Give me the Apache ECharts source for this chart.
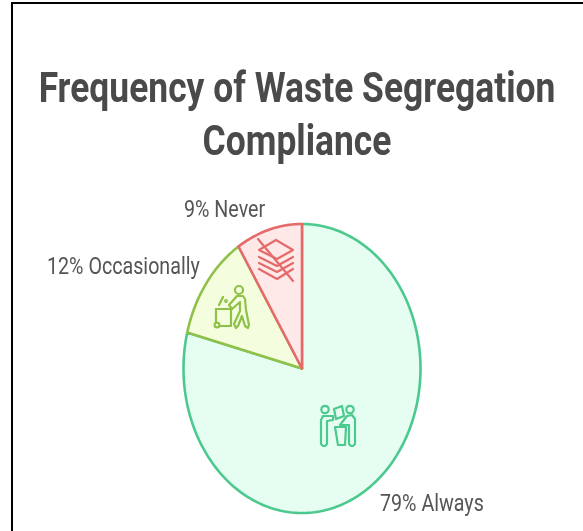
<!DOCTYPE html>
<html><head><meta charset="utf-8">
<style>html,body{margin:0;padding:0;background:#fff}#c{width:583px;height:531px}</style>
<script src="https://cdn.jsdelivr.net/npm/echarts@6/dist/echarts.min.js"></script>
</head><body><div id="c"></div>
<script>
const categories = ['Always', 'Occasionally', 'Never'];
const values = [79, 12, 9];
const titleLines = ['Frequency of Waste Segregation', 'Compliance'];
const strokes = ['#4cc98e', '#8fc148', '#e56a6a'];
const fills = ['#e6fef2', '#f4fedf', '#ffe8e8'];

const cx = 302, cy = 368.5, rx = 118.5, ry = 144.5;
const total = values.reduce((a, b) => a + b, 0);

function slicePoints(from, to) {
  const pts = [[cx, cy]];
  const n = Math.max(8, Math.round((to - from) * 3));
  for (let i = 0; i <= n; i++) {
    const a = (from + (to - from) * i / n) / total * Math.PI * 2;
    pts.push([cx + rx * Math.sin(a), cy - ry * Math.cos(a)]);
  }
  return pts;
}

function renderSlice(params, api) {
  const i = params.dataIndex;
  let start = 0;
  for (let k = 0; k < i; k++) start += values[k];
  return {
    type: 'polygon',
    shape: { points: slicePoints(start, start + api.value(0)) },
    style: { fill: fills[i], stroke: strokes[i], lineWidth: 2.6, lineJoin: 'round' }
  };
}

function stroke(color, w) { return { fill: 'none', stroke: color, lineWidth: w || 2.2, lineJoin: 'round', lineCap: 'round' }; }
const line = (pts, color, w) => ({ type: 'polyline', z: 10, silent: true, shape: { points: pts }, style: stroke(color, w) });
const ring = (x, y, r, color, w) => ({ type: 'circle', z: 10, silent: true, shape: { cx: x, cy: y, r }, style: stroke(color, w) });

const G = strokes[0], Y = strokes[1], R = strokes[2];
const iconAlways = [
  ring(325, 409.5, 3.7, G), ring(350, 409.5, 3.7, G),
  line([[321,444],[321,420],[323,416],[333,416],[333,420],[327,421],[327,444],[325,446],[323,446],[321,444]], G),
  line([[355,444],[355,419],[352,415],[347,416],[340,425],[349,425],[349,444],[351,446],[353,446],[355,444]], G),
  line([[335,427],[346,427],[345,445],[338,445],[335,427]], G),
  line([[334,409],[342,406],[344,416],[336,419],[334,409]], G)
];
const iconOcc = [
  ring(239, 290, 4, Y), ring(217, 325, 2.4, Y),
  line([[216,309],[231,309],[231,326],[220,326]], Y),
  line([[216,309],[216,322]], Y),
  line([[219,305],[223,297]], Y), ring(226, 301, 1.2, Y, 1.5),
  line([[237,296],[229,305],[232,309],[240,302],[240,311],[234,324],[236,328],[238,326],[242,316],[245,326],[248,328],[249,325],[246,310],[245,299],[243,296],[237,296]], Y)
];
const iconNever = [
  line([[276,240],[293,250],[277,259],[259,250],[276,240]], R),
  line([[259,257],[277,266],[293,257]], R),
  line([[259,263],[277,272],[293,263]], R),
  line([[259,269],[277,279],[293,269]], R),
  line([[258,239],[293,281]], R)
];

function text(str, x, y, size, weight, color, align, sx) {
  return {
    type: 'text', z: 12, silent: true, x, y, scaleX: sx,
    style: { text: str, x: 0, y: 0, fontFamily: 'Roboto', fontSize: size, fontWeight: weight, fill: color, align, verticalAlign: 'middle' }
  };
}
const lab = i => values[i] + '% ' + categories[i];

const frame = { type: 'polyline', z: 11, silent: true, shape: { points: [[12, 531], [12, 3], [583, 3]] }, style: { fill: 'none', stroke: '#000', lineWidth: 2 } };

const chart = echarts.init(document.getElementById('c'));
chart.setOption({
  animation: false,
  backgroundColor: '#fff',
  series: [{ type: 'custom', coordinateSystem: 'none', silent: true, data: values.map(v => [v]), renderItem: renderSlice, encode: { value: 0 } }],
  graphic: { elements: [
    frame,
    text(titleLines[0], 297, 91, 42, 700, '#4a4a4a', 'center', 0.843),
    text(titleLines[1], 297, 144, 42, 700, '#4a4a4a', 'center', 0.843),
    text(lab(2), 184, 211, 23, 400, '#555', 'left', 0.855),
    text(lab(1), 47, 268.5, 23, 400, '#555', 'left', 0.855),
    text(lab(0), 380, 505, 23, 400, '#555', 'left', 0.855),
    ...iconAlways, ...iconOcc, ...iconNever
  ] }
});
</script></body></html>
